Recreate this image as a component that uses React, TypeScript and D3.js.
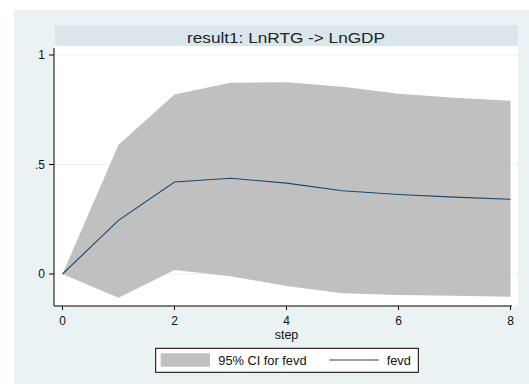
import React from "react";
import * as d3 from "d3";

const steps = [0, 1, 2, 3, 4, 5, 6, 7, 8];
const fevd = [0, 0.245, 0.42, 0.437, 0.415, 0.38, 0.363, 0.351, 0.341];
const upper = [0, 0.59, 0.82, 0.873, 0.876, 0.855, 0.823, 0.805, 0.791];
const lower = [0, -0.108, 0.018, -0.01, -0.055, -0.088, -0.096, -0.099, -0.104];
const xTicks = [0, 2, 4, 6, 8];
const yTicks = [0, 0.5, 1];
const yTickLabels = ["0", ".5", "1"];
const title = "result1: LnRTG -> LnGDP";
const xTitle = "step";
const legendLabels = ["95% CI for fevd", "fevd"];

const FONT = "'Liberation Sans', Arial, sans-serif";

export default function App() {
  const x = d3.scaleLinear().domain([0, 8]).range([62.5, 510.5]);
  const y = d3.scaleLinear().domain([0, 1]).range([274, 55]);

  const area = d3
    .area<number>()
    .x((d) => x(d))
    .y0((_, i) => y(lower[i]))
    .y1((_, i) => y(upper[i]));
  const line = d3
    .line<number>()
    .x((d) => x(d))
    .y((_, i) => y(fevd[i]));

  const plotL = 54;
  const plotR = 518;
  const plotT = 46;
  const axisY = 306;

  return (
    <svg
      width={529}
      height={384}
      style={{ position: "absolute", left: 0, top: 0, fontFamily: FONT }}
    >
      <rect x={0} y={0} width={529} height={384} fill="#ffffff" />
      <rect x={14} y={10} width={515} height={374} fill="#eaf2f3" />
      {/* title strip */}
      <rect x={55} y={25} width={plotR - 55} height={21} fill="#d9e6eb" />
      <text
        x={286}
        y={42.5}
        textAnchor="middle"
        fontSize={15.5}
        fill="#222"
        textLength={198}
        lengthAdjust="spacingAndGlyphs"
      >
        {title}
      </text>
      {/* plot region */}
      <rect x={plotL} y={plotT} width={plotR - plotL} height={axisY - plotT} fill="#ffffff" />
      {yTicks.map((t) => (
        <line key={"g" + t} x1={plotL} x2={plotR} y1={y(t)} y2={y(t)} stroke="#eaf2f3" strokeWidth={1.2} />
      ))}
      <path d={area(steps) || ""} fill="#c0c0c0" />
      <path d={line(steps) || ""} fill="none" stroke="#1a476f" strokeWidth={1.1} />
      {/* y axis */}
      <line x1={plotL} x2={plotL} y1={48} y2={axisY} stroke="#000" strokeWidth={1} />
      {yTicks.map((t, i) => (
        <g key={"y" + t}>
          <line x1={49} x2={plotL} y1={y(t)} y2={y(t)} stroke="#000" strokeWidth={1} />
          <text x={45} y={y(t) + 4.3} textAnchor="end" fontSize={12} fill="#111">
            {yTickLabels[i]}
          </text>
        </g>
      ))}
      {/* x axis */}
      <line x1={plotL} x2={512} y1={axisY} y2={axisY} stroke="#000" strokeWidth={1} />
      {xTicks.map((t) => (
        <g key={"x" + t}>
          <line x1={x(t)} x2={x(t)} y1={axisY} y2={310} stroke="#000" strokeWidth={1} />
          <text x={x(t)} y={325.2} textAnchor="middle" fontSize={12} fill="#111">
            {t}
          </text>
        </g>
      ))}
      <text x={286.5} y={339.3} textAnchor="middle" fontSize={12.5} fill="#111">
        {xTitle}
      </text>
      {/* legend */}
      <rect x={155.7} y={348.3} width={262.6} height={24} fill="#ffffff" stroke="#000" strokeWidth={1} />
      <rect x={160.7} y={353.3} width={49.3} height={13.4} fill="#c0c0c0" />
      <text x={218.3} y={365} fontSize={12.8} fill="#111">
        {legendLabels[0]}
      </text>
      <line x1={329.3} x2={378.7} y1={360} y2={360} stroke="#1a476f" strokeWidth={1.1} />
      <text x={386.7} y={365} fontSize={12.8} fill="#111">
        {legendLabels[1]}
      </text>
    </svg>
  );
}
